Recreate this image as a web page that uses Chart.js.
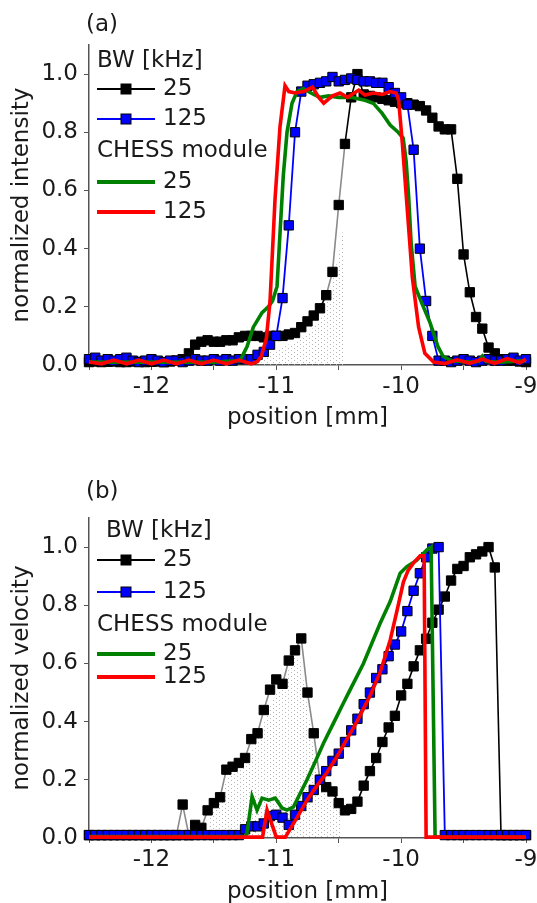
<!DOCTYPE html>
<html lang="en">
<head>
  <meta charset="UTF-8" />
  <title>Intensity and velocity profiles</title>
  <script src="https://cdn.jsdelivr.net/npm/chart.js"></script>
  <style>
    body { margin: 0; background: #fff; overflow: hidden; }
    canvas { display: block; }
  </style>
</head>
<body>
  <canvas id="chartA" width="537" height="450"></canvas>
  <canvas id="chartB" width="537" height="470"></canvas>
<script>
  // sample positions [mm] of the BW profiles (same in both panels)
  const position = [-12.5, -12.45, -12.4, -12.35, -12.3, -12.25, -12.2, -12.15, -12.1, -12.05,
    -12.0, -11.95, -11.9, -11.85, -11.8, -11.75, -11.7, -11.65, -11.6, -11.55,
    -11.5, -11.45, -11.4, -11.35, -11.3, -11.25, -11.2, -11.15, -11.1, -11.05,
    -11.0, -10.95, -10.9, -10.85, -10.8, -10.75, -10.7, -10.65, -10.6, -10.55,
    -10.5, -10.45, -10.4, -10.35, -10.3, -10.25, -10.2, -10.15, -10.1, -10.05,
    -10.0, -9.95, -9.9, -9.85, -9.8, -9.75, -9.7, -9.65, -9.6, -9.55,
    -9.5, -9.45, -9.4, -9.35, -9.3, -9.25, -9.2, -9.15, -9.1, -9.05, -9.0];

  // (a) normalized intensity
  const intBW25 = [0.010, 0.012, 0.010, 0.011, 0.012, 0.010, 0.010, 0.012, 0.011, 0.010,
    0.011, 0.012, 0.010, 0.012, 0.015, 0.020, 0.040, 0.070, 0.080, 0.085,
    0.080, 0.080, 0.085, 0.085, 0.095, 0.100, 0.100, 0.100, 0.095, 0.100,
    0.100, 0.100, 0.105, 0.110, 0.130, 0.150, 0.170, 0.195, 0.240, 0.320,
    0.550, 0.760, 0.920, 1.000, 0.930, 0.925, 0.920, 0.915, 0.910, 0.905,
    0.900, 0.900, 0.895, 0.890, 0.875, 0.850, 0.820, 0.810, 0.810, 0.640,
    0.380, 0.250, 0.165, 0.125, 0.060, 0.040, 0.020, 0.015, 0.015, 0.012, 0.010];
  const intBW125 = [0.020, 0.025, 0.015, 0.020, 0.015, 0.020, 0.025, 0.015, 0.010, 0.015,
    0.020, 0.015, 0.010, 0.015, 0.015, 0.010, 0.015, 0.020, 0.015, 0.015,
    0.020, 0.015, 0.020, 0.015, 0.020, 0.020, 0.020, 0.035, 0.045, 0.070,
    0.100, 0.230, 0.480, 0.800, 0.940, 0.960, 0.965, 0.970, 0.975, 0.990,
    0.975, 0.980, 0.985, 0.980, 0.975, 0.975, 0.970, 0.970, 0.955, 0.935,
    0.920, 0.895, 0.740, 0.400, 0.220, 0.100, 0.015, 0.015, 0.010, 0.015,
    0.020, 0.015, 0.010, 0.015, 0.020, 0.015, 0.015, 0.020, 0.025, 0.015, 0.020];
  const intChess25X = [-12.5, -12.0, -11.5, -11.29, -11.234, -11.184, -11.114, -11.064, -11.03, -10.994,
    -10.968, -10.944, -10.914, -10.874, -10.834, -10.784, -10.7, -10.65, -10.58, -10.5,
    -10.4, -10.29, -10.224, -10.152, -10.088, -10.024, -9.984, -9.96, -9.94, -9.92,
    -9.888, -9.832, -9.768, -9.704, -9.664, -9.6, -9.45, -9.38, -9.35, -9.32, -9.2, -9.0];
  const intChess25Y = [0.010, 0.010, 0.010, 0.015, 0.063, 0.13, 0.18, 0.2, 0.22, 0.27,
    0.47, 0.65, 0.8, 0.9, 0.94, 0.95, 0.93, 0.92, 0.925, 0.92,
    0.92, 0.91, 0.9, 0.865, 0.825, 0.8, 0.78, 0.7, 0.58, 0.42,
    0.27, 0.21, 0.145, 0.062, 0.03, 0.015, 0.01, 0.012, 0.03, 0.012, 0.01, 0.015];
  const intChess125X = [-12.5, -12.4, -12.3, -12.2, -12.1, -12.0, -11.9, -11.8, -11.7, -11.6,
    -11.5, -11.4, -11.3, -11.2, -11.15, -11.12, -11.08, -11.05, -11.01, -10.97,
    -10.93, -10.9, -10.85, -10.78, -10.71, -10.66, -10.62, -10.55, -10.49, -10.43,
    -10.34, -10.29, -10.22, -10.15, -10.09, -10.04, -10.02, -9.99, -9.95, -9.91,
    -9.86, -9.81, -9.74, -9.65, -9.55, -9.45, -9.35, -9.25, -9.15, -9.05, -9.0];
  const intChess125Y = [0.010, 0.004, 0.017, 0.004, 0.017, 0.004, 0.017, 0.004, 0.017, 0.004,
    0.017, 0.004, 0.017, 0.004, 0.012, 0.03, 0.09, 0.22, 0.57, 0.82,
    0.96, 0.94, 0.935, 0.94, 0.955, 0.92, 0.9, 0.925, 0.935, 0.92,
    0.945, 0.928, 0.935, 0.93, 0.94, 0.935, 0.91, 0.76, 0.53, 0.3,
    0.13, 0.04, 0.01, 0.005, 0.018, 0.006, 0.02, 0.006, 0.022, 0.008, 0.02];
  const intShadeX = [-11.12, -11.0, -10.83, -10.72, -10.65, -10.57, -10.5, -10.45];
  const intShadeY = [0.04, 0.05, 0.085, 0.12, 0.155, 0.25, 0.38, 0.5];
  const intGrayRange = [-10.6, -10.45];

  // (b) normalized velocity
  const velBW25 = [0.010, 0.010, 0.010, 0.010, 0.010, 0.010, 0.010, 0.010, 0.010, 0.010,
    0.010, 0.010, 0.010, 0.010, 0.010, 0.115, 0.010, 0.045, 0.035, 0.095,
    0.120, 0.140, 0.235, 0.245, 0.258, 0.275, 0.340, 0.360, 0.440, 0.510,
    0.545, 0.530, 0.610, 0.645, 0.686, 0.500, 0.360, 0.200, 0.175, 0.160,
    0.120, 0.095, 0.100, 0.125, 0.180, 0.230, 0.275, 0.330, 0.380, 0.420,
    0.490, 0.530, 0.590, 0.645, 0.685, 0.740, 0.785, 0.830, 0.885, 0.925,
    0.935, 0.965, 0.975, 0.985, 1.000, 0.930, 0.010, 0.010, 0.010, 0.010, 0.010];
  const velBW125 = [0.010, 0.010, 0.010, 0.010, 0.010, 0.010, 0.010, 0.010, 0.010, 0.010,
    0.010, 0.010, 0.010, 0.010, 0.010, 0.010, 0.010, 0.010, 0.010, 0.010,
    0.010, 0.010, 0.010, 0.010, 0.010, 0.030, 0.040, 0.040, 0.050, 0.075,
    0.080, 0.070, 0.045, 0.080, 0.110, 0.140, 0.165, 0.200, 0.230, 0.265,
    0.290, 0.330, 0.370, 0.410, 0.460, 0.500, 0.550, 0.580, 0.625, 0.665,
    0.710, 0.780, 0.850, 0.910, 0.965, 0.995, 1.000, 0.010, 0.010, 0.010,
    0.010, 0.010, 0.010, 0.010, 0.010, 0.010, 0.010, 0.010, 0.010, 0.010, 0.010];
  const velChess25X = [-12.5, -11.25, -11.234, -11.194, -11.154, -11.114, -11.062, -11.008, -10.954, -10.914,
    -10.862, -10.808, -10.754, -10.688, -10.622, -10.542, -10.462, -10.408, -10.302, -10.168,
    -10.088, -10.008, -9.954, -9.874, -9.794, -9.76, -9.728, -9.0];
  const velChess25Y = [0.005, 0.005, 0.017, 0.142, 0.096, 0.137, 0.13, 0.137, 0.103, 0.096,
    0.107, 0.154, 0.2, 0.262, 0.326, 0.395, 0.464, 0.51, 0.6, 0.738,
    0.813, 0.91, 0.933, 0.955, 0.99, 1.0, 0.003, 0.003];
  const velChess125X = [-12.5, -11.11, -11.074, -11.0, -10.928, -10.834, -10.754, -10.674, -10.594, -10.514,
    -10.434, -10.354, -10.248, -10.168, -10.088, -10.034, -9.982, -9.944, -9.902, -9.848,
    -9.816, -9.8, -9.0];
  const velChess125Y = [0.003, 0.003, 0.096, 0.003, 0.003, 0.07, 0.13, 0.18, 0.225, 0.28,
    0.34, 0.40, 0.49, 0.57, 0.68, 0.78, 0.88, 0.92, 0.945, 0.97,
    0.97, 0.003, 0.003];
  const velShadeX = [-11.55, -11.5, -11.45, -11.4, -11.3, -11.2, -11.1, -11.0, -10.95, -10.9,
    -10.85, -10.8, -10.75, -10.7, -10.65, -10.6, -10.55, -10.48];
  const velShadeY = [0.06, 0.1, 0.12, 0.2, 0.24, 0.3, 0.4, 0.5, 0.52, 0.58,
    0.63, 0.6, 0.45, 0.3, 0.18, 0.15, 0.12, 0.08];
  const velGrayRange = [-11.8, -10.6];

  const FONT = "'DejaVu Sans', Verdana, sans-serif";
  const INK = '#1a1a1a';
  Chart.defaults.font.family = FONT;
  Chart.defaults.font.size = 23;
  Chart.defaults.color = INK;

  // light stipple used under the gray part of the 25 kHz curve
  function dotPattern(canvas) {
    const c = document.createElement('canvas');
    c.width = 6; c.height = 4;
    const g = c.getContext('2d');
    g.fillStyle = '#b4b4b4';
    g.fillRect(0, 0, 1, 1);
    g.fillRect(3, 2, 1, 1);
    return canvas.getContext('2d').createPattern(c, 'repeat');
  }

  function pts(xs, ys) {
    return xs.map((x, i) => ({ x: x, y: ys[i] }));
  }

  function buildDatasets(bw25, bw125, c25x, c25y, c125x, c125y, shX, shY, grayRange, pattern) {
    const inGray = ctx => ctx.p0.parsed.x >= grayRange[0] - 1e-6 && ctx.p1.parsed.x <= grayRange[1] + 1e-6;
    return [
      { label: '', data: pts(shX, shY), fill: 'origin', backgroundColor: pattern,
        borderColor: 'transparent', borderWidth: 0, pointRadius: 0, order: 5 },
      { label: '25', data: pts(position, bw25), borderColor: '#000', borderWidth: 1.6,
        pointStyle: 'rect', pointRadius: 6.6, pointBackgroundColor: '#000', pointBorderColor: '#000',
        pointBorderWidth: 1, segment: { borderColor: ctx => inGray(ctx) ? '#8a8a8a' : undefined },
        clip: 8, order: 4 },
      { label: '125', data: pts(position, bw125), borderColor: '#0000ff', borderWidth: 1.8,
        pointStyle: 'rect', pointRadius: 6.6, pointBackgroundColor: '#0000ff', pointBorderColor: '#000',
        pointBorderWidth: 1, clip: 8, order: 3 },
      { label: '25', data: pts(c25x, c25y), borderColor: '#008000', borderWidth: 3.6,
        pointRadius: 0, clip: 8, order: 2 },
      { label: '125', data: pts(c125x, c125y), borderColor: '#ff0000', borderWidth: 3.6,
        pointRadius: 0, clip: 8, order: 1 }
    ];
  }

  // panel letter plus the grouped legend (BW / CHESS module)
  function panelDecor(letter, letterY, rows) {
    return {
      id: 'panelDecor',
      afterDraw(chart) {
        const ctx = chart.ctx;
        const ds = chart.data.datasets;
        ctx.save();
        ctx.font = '23px ' + FONT;
        ctx.textBaseline = 'middle';
        ctx.textAlign = 'left';
        ctx.fillStyle = INK;
        ctx.fillText(letter, 86, letterY);
        rows.forEach(r => {
          if (r.head) {
            ctx.fillStyle = INK;
            ctx.fillText(r.head, r.x, r.y);
            return;
          }
          const d = ds[r.ds];
          ctx.strokeStyle = d.borderColor;
          ctx.lineWidth = d.pointRadius ? 2 : 4;
          ctx.beginPath();
          ctx.moveTo(97, r.y);
          ctx.lineTo(155, r.y);
          ctx.stroke();
          if (d.pointRadius) {
            const s = 10;
            ctx.fillStyle = d.pointBackgroundColor;
            ctx.fillRect(126 - s / 2, r.y - s / 2, s, s);
            ctx.lineWidth = 1;
            ctx.strokeStyle = d.pointBorderColor;
            ctx.strokeRect(126 - s / 2, r.y - s / 2, s, s);
          }
          ctx.fillStyle = INK;
          ctx.fillText(d.label, 163, r.y);
        });
        ctx.restore();
      }
    };
  }

  function makeChart(id, datasets, yTitle, padTop, axisH, titleGap, decor) {
    return new Chart(document.getElementById(id), {
      type: 'line',
      data: { datasets: datasets },
      plugins: [decor],
      options: {
        responsive: false,
        animation: false,
        events: [],
        layout: { padding: { top: padTop, right: 11, left: 0, bottom: 0 } },
        plugins: { legend: { display: false }, tooltip: { enabled: false } },
        elements: { line: { tension: 0 } },
        scales: {
          x: {
            type: 'linear', min: -12.5, max: -9,
            border: { color: '#555', width: 1.5 },
            grid: { drawOnChartArea: false, color: '#555', tickLength: 5 },
            ticks: {
              stepSize: 0.5, autoSkip: false, maxRotation: 0, padding: 3, color: INK,
              callback: v => Number.isInteger(v) ? String(v) : ''
            },
            title: { display: true, text: 'position [mm]', color: INK, padding: { top: 0, bottom: titleGap } },
            afterFit: s => { s.height = axisH; s.paddingLeft = 0; s.paddingRight = 0; }
          },
          y: {
            min: 0, max: 1.1,
            border: { color: '#555', width: 1.5 },
            grid: { drawOnChartArea: false, color: '#555', tickLength: 5 },
            ticks: {
              stepSize: 0.1, padding: 6, color: INK,
              callback: v => {
                const k = Math.round(v * 10);
                return (k % 2 === 0 && k <= 10) ? (k / 10).toFixed(1) : '';
              }
            },
            title: { display: true, text: yTitle, color: INK, padding: { top: 8, bottom: 0 } },
            afterFit: s => { s.width = 89; s.paddingTop = 0; s.paddingBottom = 0; }
          }
        }
      }
    });
  }

  const canvasA = document.getElementById('chartA');
  const canvasB = document.getElementById('chartB');

  makeChart('chartA',
    buildDatasets(intBW25, intBW125, intChess25X, intChess25Y, intChess125X, intChess125Y,
      intShadeX, intShadeY, intGrayRange, dotPattern(canvasA)),
    'normalized intensity', 45, 85, 18,
    panelDecor('(a)', 25, [
      { head: 'BW [kHz]', x: 97, y: 61 }, { ds: 1, y: 89 }, { ds: 2, y: 119 },
      { head: 'CHESS module', x: 97, y: 151 }, { ds: 3, y: 182 }, { ds: 4, y: 212 }
    ]));

  makeChart('chartB',
    buildDatasets(velBW25, velBW125, velChess25X, velChess25Y, velChess125X, velChess125Y,
      velShadeX, velShadeY, velGrayRange, dotPattern(canvasB)),
    'normalized velocity', 68, 82, 14,
    panelDecor('(b)', 42, [
      { head: 'BW [kHz]', x: 106, y: 81 }, { ds: 1, y: 110 }, { ds: 2, y: 142 },
      { head: 'CHESS module', x: 97, y: 175 }, { ds: 3, y: 204 }, { ds: 4, y: 227 }
    ]));
</script>
</body>
</html>
